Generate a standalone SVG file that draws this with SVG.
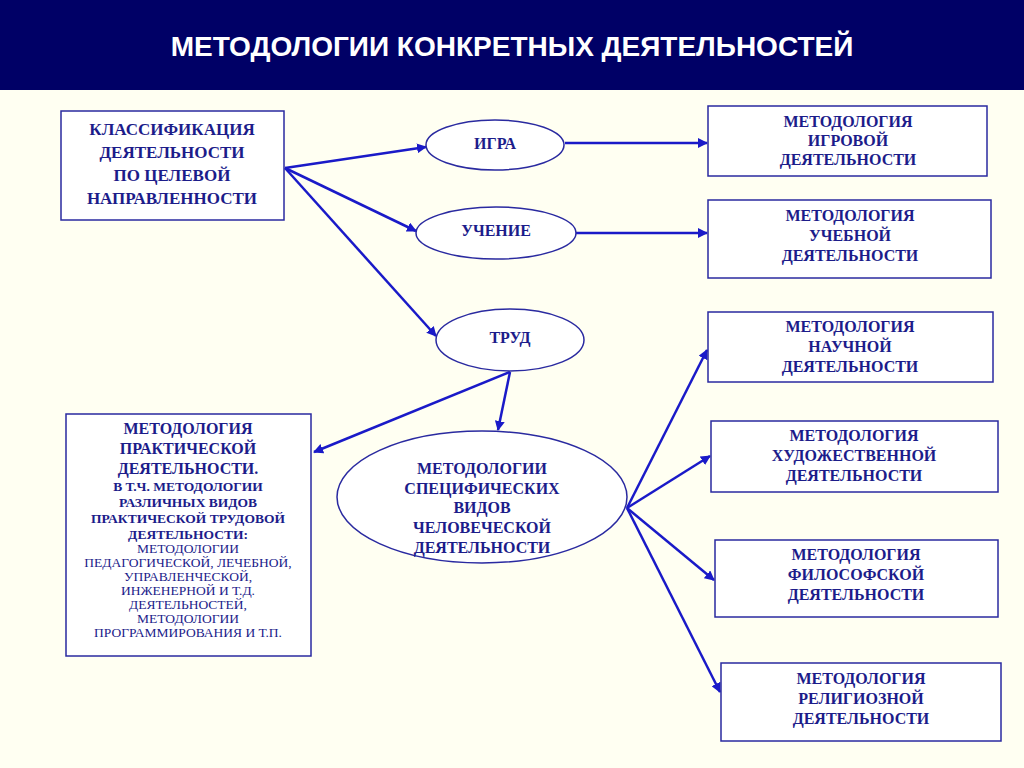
<svg xmlns="http://www.w3.org/2000/svg" width="1024" height="768" viewBox="0 0 1024 768">
<style>
.b{fill:#fff;stroke:#2a2aa0;stroke-width:1.5}
.t{font-family:"Liberation Serif",serif;font-weight:bold;font-size:16px;fill:#1c1c8a;text-anchor:middle}
.s{font-family:"Liberation Serif",serif;font-size:13.5px;fill:#1c1c8a;text-anchor:middle}
.c line{stroke:#1a1ac8;stroke-width:2.5;marker-end:url(#a)}
</style>
<defs><marker id="a" markerWidth="10" markerHeight="10" refX="9" refY="5" orient="auto" markerUnits="userSpaceOnUse"><path d="M0,0L10,5L0,10z" fill="#1a1ac8"/></marker></defs>
<rect width="1024" height="768" fill="#fffff2"/>
<rect width="1024" height="90" fill="#000066"/>
<text x="512" y="56" font-family="Liberation Sans,sans-serif" font-weight="bold" font-size="28" fill="#fff" text-anchor="middle">МЕТОДОЛОГИИ КОНКРЕТНЫХ ДЕЯТЕЛЬНОСТЕЙ</text>
<g class="c">
<line x1="285" y1="168" x2="426" y2="147"/>
<line x1="285" y1="168" x2="416" y2="231"/>
<line x1="285" y1="168" x2="436" y2="336"/>
<line x1="565" y1="143" x2="707" y2="143"/>
<line x1="575" y1="233" x2="707" y2="233"/>
<line x1="510" y1="372" x2="314" y2="452"/>
<line x1="510" y1="372" x2="498" y2="430"/>
<line x1="627" y1="508" x2="707" y2="350"/>
<line x1="627" y1="508" x2="710" y2="456"/>
<line x1="627" y1="508" x2="714" y2="580"/>
<line x1="627" y1="508" x2="720" y2="692"/>
</g>
<g id="n1"><rect class="b" x="61" y="111" width="223" height="109"/><text class="t" y="135" style="font-size:17px"><tspan x="172">КЛАССИФИКАЦИЯ</tspan><tspan x="172" dy="23">ДЕЯТЕЛЬНОСТИ</tspan><tspan x="172" dy="23">ПО ЦЕЛЕВОЙ</tspan><tspan x="172" dy="23">НАПРАВЛЕННОСТИ</tspan></text></g>
<g id="n2"><ellipse class="b" cx="495" cy="145" rx="69" ry="25"/><text class="t" x="495" y="149">ИГРА</text></g>
<g id="n3"><ellipse class="b" cx="496" cy="233" rx="80" ry="26"/><text class="t" x="496" y="236">УЧЕНИЕ</text></g>
<g id="n4"><ellipse class="b" cx="510" cy="340" rx="74" ry="31"/><text class="t" x="510" y="343">ТРУД</text></g>
<g id="n5"><rect class="b" x="708" y="106" width="279" height="70"/><text class="t" y="127"><tspan x="848">МЕТОДОЛОГИЯ</tspan><tspan x="848" dy="19">ИГРОВОЙ</tspan><tspan x="848" dy="19">ДЕЯТЕЛЬНОСТИ</tspan></text></g>
<g id="n6"><rect class="b" x="708" y="200" width="283" height="78"/><text class="t" y="221"><tspan x="850">МЕТОДОЛОГИЯ</tspan><tspan x="850" dy="20">УЧЕБНОЙ</tspan><tspan x="850" dy="20">ДЕЯТЕЛЬНОСТИ</tspan></text></g>
<g id="n7"><rect class="b" x="708" y="312" width="285" height="70"/><text class="t" y="332"><tspan x="850">МЕТОДОЛОГИЯ</tspan><tspan x="850" dy="20">НАУЧНОЙ</tspan><tspan x="850" dy="20">ДЕЯТЕЛЬНОСТИ</tspan></text></g>
<g id="n8"><rect class="b" x="711" y="421" width="287" height="71"/><text class="t" y="441"><tspan x="854">МЕТОДОЛОГИЯ</tspan><tspan x="854" dy="20">ХУДОЖЕСТВЕННОЙ</tspan><tspan x="854" dy="20">ДЕЯТЕЛЬНОСТИ</tspan></text></g>
<g id="n9"><rect class="b" x="715" y="540" width="283" height="77"/><text class="t" y="560"><tspan x="856">МЕТОДОЛОГИЯ</tspan><tspan x="856" dy="20">ФИЛОСОФСКОЙ</tspan><tspan x="856" dy="20">ДЕЯТЕЛЬНОСТИ</tspan></text></g>
<g id="n10"><rect class="b" x="721" y="663" width="280" height="78"/><text class="t" y="684"><tspan x="861">МЕТОДОЛОГИЯ</tspan><tspan x="861" dy="20">РЕЛИГИОЗНОЙ</tspan><tspan x="861" dy="20">ДЕЯТЕЛЬНОСТИ</tspan></text></g>
<g id="n11"><ellipse class="b" cx="482" cy="497" rx="145" ry="66"/><text class="t" y="474"><tspan x="482">МЕТОДОЛОГИИ</tspan><tspan x="482" dy="20">СПЕЦИФИЧЕСКИХ</tspan><tspan x="482" dy="19">ВИДОВ</tspan><tspan x="482" dy="20">ЧЕЛОВЕЧЕСКОЙ</tspan><tspan x="482" dy="20">ДЕЯТЕЛЬНОСТИ</tspan></text></g>
<g id="n12"><rect class="b" x="66" y="414" width="245" height="242"/>
<text class="t" y="434"><tspan x="188">МЕТОДОЛОГИЯ</tspan><tspan x="188" dy="20">ПРАКТИЧЕСКОЙ</tspan><tspan x="188" dy="20">ДЕЯТЕЛЬНОСТИ.</tspan></text>
<text class="t" y="491" style="font-size:13.5px"><tspan x="188">В Т.Ч. МЕТОДОЛОГИИ</tspan><tspan x="188" dy="16">РАЗЛИЧНЫХ ВИДОВ</tspan><tspan x="188" dy="16">ПРАКТИЧЕСКОЙ ТРУДОВОЙ</tspan><tspan x="188" dy="16">ДЕЯТЕЛЬНОСТИ:</tspan></text>
<text class="s" y="553"><tspan x="188">МЕТОДОЛОГИИ</tspan><tspan x="188" dy="14">ПЕДАГОГИЧЕСКОЙ,  ЛЕЧЕБНОЙ,</tspan><tspan x="188" dy="14">УПРАВЛЕНЧЕСКОЙ,</tspan><tspan x="188" dy="14">ИНЖЕНЕРНОЙ И Т.Д.</tspan><tspan x="188" dy="14">ДЕЯТЕЛЬНОСТЕЙ,</tspan><tspan x="188" dy="14">МЕТОДОЛОГИИ</tspan><tspan x="188" dy="14">ПРОГРАММИРОВАНИЯ И Т.П.</tspan></text></g>
</svg>
